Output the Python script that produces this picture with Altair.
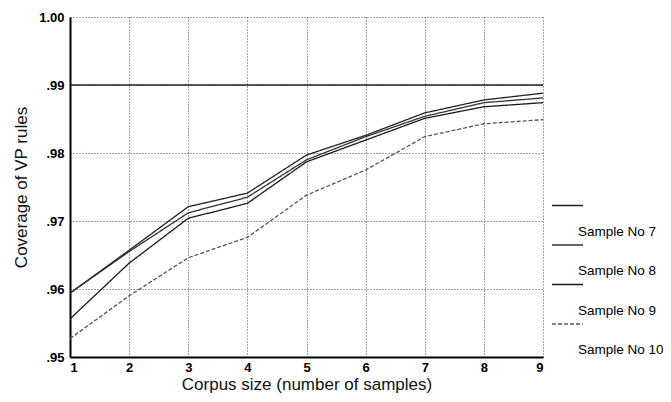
import altair as alt
import pandas as pd

corpus_size = [1, 2, 3, 4, 5, 6, 7, 8, 9]
sample_7 = [0.9594, 0.9657, 0.9721, 0.9741, 0.9797, 0.9826, 0.9859, 0.9878, 0.9888]
sample_8 = [0.9594, 0.9655, 0.9712, 0.9735, 0.9790, 0.9824, 0.9854, 0.9874, 0.9881]
sample_9 = [0.9556, 0.9638, 0.9704, 0.9726, 0.9787, 0.9819, 0.9851, 0.9868, 0.9874]
sample_10 = [0.9527, 0.9590, 0.9646, 0.9676, 0.9738, 0.9775, 0.9824, 0.9843, 0.9849]
series_names = ["Sample No 7", "Sample No 8", "Sample No 9", "Sample No 10"]
ref_level = [0.99]
y_ticks = [0.95, 0.96, 0.97, 0.98, 0.99, 1.00]

rows = []
for name, vals in zip(series_names, [sample_7, sample_8, sample_9, sample_10]):
    for x, v in zip(corpus_size, vals):
        rows.append({"size": x, "coverage": v, "series": name})
df = pd.DataFrame(rows)

xscale = alt.Scale(domain=[1, 9], nice=False)
yscale = alt.Scale(domain=[0.95, 1.0], nice=False, zero=False)

lines = alt.Chart(df).mark_line(strokeWidth=1.3).encode(
    x=alt.X("size:Q", scale=xscale,
            axis=alt.Axis(title="Corpus size (number of samples)", values=corpus_size, format="d")),
    y=alt.Y("coverage:Q", scale=yscale,
            axis=alt.Axis(title="Coverage of VP rules", values=y_ticks,
                          labelExpr="datum.value >= 1 ? '1.00' : replace(format(datum.value, '.2f'), '0.', '.')")),
    color=alt.Color("series:N", sort=series_names,
                    scale=alt.Scale(domain=series_names, range=["#222222", "#333333", "#1a1a1a", "#555555"]),
                    legend=alt.Legend(title=None, orient="none", legendX=481, legendY=201,
                                      symbolType="M-1,-2.08L1.48,-2.08", symbolSize=625,
                                      symbolStrokeWidth=1.5, symbolFillColor="transparent",
                                      labelBaseline="middle",
                                      labelFontSize=13.5, labelFont="Liberation Sans", labelColor="#000",
                                      labelOffset=0, rowPadding=3.5)),
    strokeDash=alt.StrokeDash("series:N", sort=series_names,
                              scale=alt.Scale(domain=series_names, range=[[1, 0], [1, 0], [1, 0], [4, 2]]),
                              legend=None),
)

rule = alt.Chart(pd.DataFrame({"level": ref_level})).mark_rule(color="#222222", strokeWidth=1.5).encode(
    y=alt.Y("level:Q", scale=yscale)
)

chart = alt.layer(rule, lines).properties(
    width=473, height=340,
    autosize=alt.AutoSizeParams(type="none"),
    padding={"left": 62, "top": 9, "right": 120, "bottom": 37},
).configure_view(stroke=None).configure_axis(
    grid=True, gridColor="#444444", gridDash=[1, 2], gridWidth=1, gridOpacity=1,
    domainColor="#000000", domainWidth=2, ticks=False,
    labelFont="Liberation Sans", labelFontSize=13, labelFontWeight="bold", labelColor="#000",
    titleFont="Liberation Sans", titleFontSize=17, titleFontWeight="normal", titleColor="#111",
).configure_axisX(labelPadding=4, titlePadding=2).configure_axisY(labelPadding=6, titlePadding=8)

chart.save("out.html", embed_options={"renderer": "svg", "actions": False})
